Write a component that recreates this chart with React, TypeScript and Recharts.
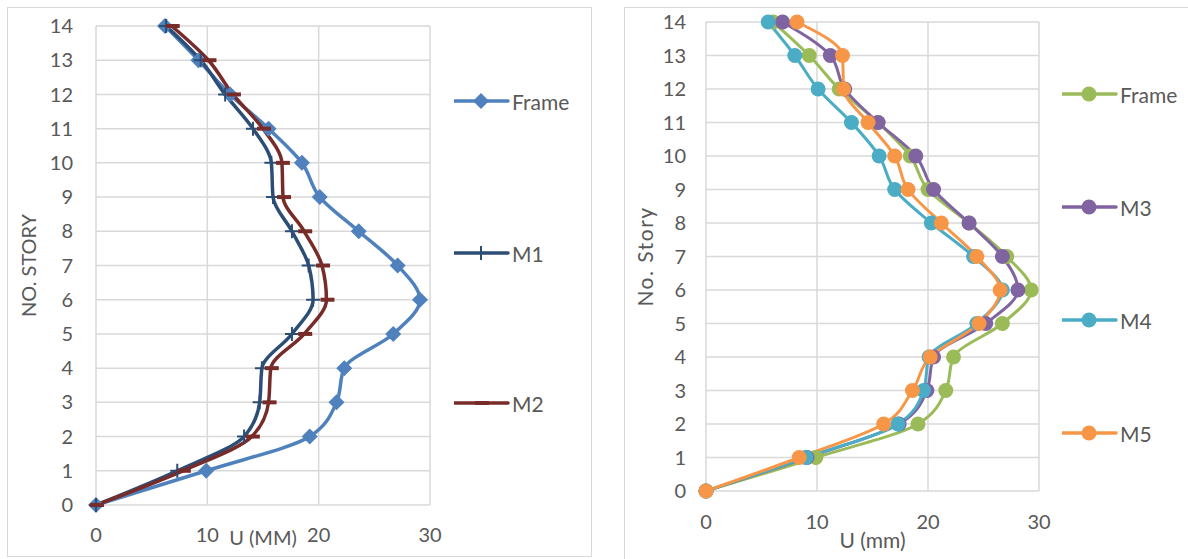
import { LineChart, Line, XAxis, YAxis, CartesianGrid } from "recharts"

// story levels (y axis) and x ticks
const stories = [0, 1, 2, 3, 4, 5, 6, 7, 8, 9, 10, 11, 12, 13, 14]
const uTicks = [0, 10, 20, 30]

// left chart: U (MM) per story
const leftNames = ["Frame", "M1", "M2"]
const leftFrame = [0, 9.9, 19.2, 21.6, 22.3, 26.7, 29.1, 27.1, 23.6, 20.1, 18.5, 15.5, 12.05, 9.2, 6.2]
const leftM1 = [0, 7.3, 13.3, 14.7, 14.9, 17.6, 19.5, 19.1, 17.6, 15.9, 15.75, 14.1, 11.6, 9.4, 6.3]
const leftM2 = [0, 7.8, 14.0, 15.5, 15.7, 18.7, 20.7, 20.3, 18.7, 16.8, 16.7, 15.0, 12.3, 10.1, 6.8]

// right chart: U (mm) per story
const rightNames = ["Frame", "M3", "M4", "M5"]
const rightFrame = [0, 9.9, 19.1, 21.6, 22.3, 26.7, 29.3, 27.1, 23.7, 20.0, 18.4, 15.5, 12.0, 9.3, 6.05]
const rightM3 = [0, 9.1, 17.4, 19.9, 20.5, 25.2, 28.1, 26.7, 23.7, 20.5, 18.9, 15.5, 12.5, 11.2, 6.9]
const rightM4 = [0, 9.0, 17.3, 19.6, 20.1, 24.4, 26.7, 24.1, 20.3, 17.0, 15.6, 13.1, 10.1, 8.0, 5.6]
const rightM5 = [0, 8.4, 16.0, 18.6, 20.2, 24.6, 26.5, 24.4, 21.2, 18.2, 17.0, 14.6, 12.4, 12.3, 8.2]

const FONT = "Lato, 'Open Sans', sans-serif"
const GRID = "#D9D9D9"
const TEXT = "#595959"

const leftColors = ["#4F81BD", "#2C4D75", "#772C2A"]
const rightColors = ["#9BBB59", "#8064A2", "#4BACC6", "#F79646"]

const leftRows = stories.map((s, i) => ({
  story: s,
  frame: leftFrame[i],
  m1: leftM1[i],
  m2: leftM2[i],
}))

const rightRows = stories.map((s, i) => ({
  story: s,
  frame: rightFrame[i],
  m3: rightM3[i],
  m4: rightM4[i],
  m5: rightM5[i],
}))

type Marker = (cx: number, cy: number, color: string, key?: number) => JSX.Element

const diamond: Marker = (cx, cy, color, key) => (
  <path
    key={key}
    d={`M${cx},${cy - 8} L${cx + 8},${cy} L${cx},${cy + 8} L${cx - 8},${cy} Z`}
    fill={color}
  />
)

const plus: Marker = (cx, cy, color, key) => (
  <path
    key={key}
    d={`M${cx - 7},${cy} H${cx + 7} M${cx},${cy - 7} V${cy + 7}`}
    stroke={color}
    strokeWidth={2}
    fill="none"
  />
)

const dash: Marker = (cx, cy, color, key) => (
  <rect key={key} x={cx - 6} y={cy - 2} width={14} height={4} fill={color} />
)

const circle: Marker = (cx, cy, color, key) => (
  <circle key={key} cx={cx} cy={cy} r={7.5} fill={color} />
)

const leftMarkers = [diamond, plus, dash]

function dotFor(marker: Marker, color: string) {
  return (p: any) => marker(p.cx, p.cy, color, p.index)
}

function LegendEntry({
  name,
  color,
  marker,
  x,
  y,
}: {
  name: string
  color: string
  marker: Marker
  x: number
  y: number
}) {
  return (
    <div
      style={{
        position: "absolute",
        left: x,
        top: y - 15,
        height: 30,
        display: "flex",
        alignItems: "center",
        fontFamily: FONT,
        fontSize: 21,
        color: TEXT,
      }}
    >
      <svg width={58} height={30}>
        <line x1={0} y1={15} x2={54} y2={15} stroke={color} strokeWidth={3.5} strokeLinecap="round" />
        {marker(27, 15, color)}
      </svg>
      <span>{name}</span>
    </div>
  )
}

const tickStyle = { fill: TEXT, fontSize: 20, fontFamily: FONT }

export default function App() {
  return (
    <div style={{ position: "absolute", left: 0, top: 0, width: 1188, height: 559, background: "#fff", overflow: "hidden" }}>
      {/* panel frames */}
      <div style={{ position: "absolute", left: 7, top: 7, width: 583, height: 548, border: `1.5px solid ${GRID}` }} />
      <div style={{ position: "absolute", left: 624, top: 7, width: 600, height: 600, border: `1.5px solid ${GRID}` }} />

      <div style={{ position: "absolute", left: 0, top: 0 }}>
        <LineChart
          width={590}
          height={559}
          layout="vertical"
          data={leftRows}
          margin={{ top: 26, right: 160, bottom: 0, left: 0 }}
        >
          <CartesianGrid stroke={GRID} strokeWidth={1.5} />
          <XAxis
            type="number"
            domain={[0, 30]}
            ticks={uTicks}
            height={54}
            axisLine={false}
            tickLine={false}
            tickSize={0}
            tickMargin={23}
            tick={tickStyle}
            label={{ value: "U (MM)", position: "insideBottom", offset: 14, fill: TEXT, fontSize: 20, fontFamily: FONT }}
          />
          <YAxis
            type="number"
            dataKey="story"
            domain={[0, 14]}
            ticks={stories}
            reversed
            width={96}
            axisLine={false}
            tickLine={false}
            tickSize={0}
            tickMargin={23}
            tick={tickStyle}
            label={{
              value: "NO. STORY",
              angle: -90,
              position: "insideLeft",
              offset: 29,
              fill: TEXT,
              fontSize: 20,
              fontFamily: FONT,
              style: { textAnchor: "middle" },
            }}
          />
          {["frame", "m1", "m2"].map((k, i) => (
            <Line
              key={k}
              dataKey={k}
              type="monotone"
              stroke={leftColors[i]}
              strokeWidth={3.5}
              dot={dotFor(leftMarkers[i], leftColors[i])}
              activeDot={false}
              isAnimationActive={false}
            />
          ))}
        </LineChart>
      </div>

      <div style={{ position: "absolute", left: 612, top: 0 }}>
        <LineChart
          width={576}
          height={559}
          layout="vertical"
          data={rightRows}
          margin={{ top: 22, right: 149, bottom: 0, left: 0 }}
        >
          <CartesianGrid stroke={GRID} strokeWidth={1.5} />
          <XAxis
            type="number"
            domain={[0, 30]}
            ticks={uTicks}
            height={68}
            axisLine={false}
            tickLine={false}
            tickSize={0}
            tickMargin={24}
            tick={tickStyle}
            label={{ value: "U (mm)", position: "insideBottom", offset: 11, fill: TEXT, fontSize: 21, fontFamily: FONT }}
          />
          <YAxis
            type="number"
            dataKey="story"
            domain={[0, 14]}
            ticks={stories}
            reversed
            width={94}
            axisLine={false}
            tickLine={false}
            tickSize={0}
            tickMargin={20}
            tick={tickStyle}
            label={{
              value: "No. Story",
              angle: -90,
              position: "insideLeft",
              offset: 34,
              fill: TEXT,
              fontSize: 21,
              fontFamily: FONT,
              style: { textAnchor: "middle", letterSpacing: 1.5 },
            }}
          />
          {["frame", "m3", "m4", "m5"].map((k, i) => (
            <Line
              key={k}
              dataKey={k}
              type="monotone"
              stroke={rightColors[i]}
              strokeWidth={3}
              dot={dotFor(circle, rightColors[i])}
              activeDot={false}
              isAnimationActive={false}
            />
          ))}
        </LineChart>
      </div>

      {leftNames.map((n, i) => (
        <LegendEntry key={n} name={n} color={leftColors[i]} marker={leftMarkers[i]} x={454} y={[101, 253, 403][i]} />
      ))}
      {rightNames.map((n, i) => (
        <LegendEntry key={n} name={n} color={rightColors[i]} marker={circle} x={1062} y={[94, 207, 320, 433][i]} />
      ))}
    </div>
  )
}
